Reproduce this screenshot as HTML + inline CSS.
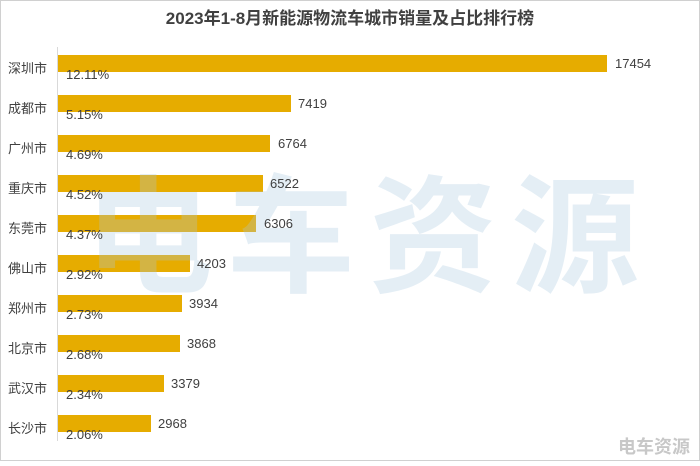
<!DOCTYPE html><html><head><meta charset="utf-8"><style>
body{margin:0;background:#fff}
svg text{font-family:"Liberation Sans","Noto Sans CJK SC",sans-serif}
</style></head><body>
<svg width="700" height="461" xmlns="http://www.w3.org/2000/svg">
<rect x="0.5" y="0.5" width="699" height="460" fill="#fff" stroke="#d0d0d0"/>
<text x="350" y="24" text-anchor="middle" font-size="17" font-weight="bold" fill="#404040">2023年1-8月新能源物流车城市销量及占比排行榜</text>
<line x1="57.5" y1="47" x2="57.5" y2="441" stroke="#d9d9d9"/>
<g font-size="13" fill="#404040">
<g id="bars">
<rect x="58" y="55" width="549" height="17" fill="#E6AC00"/>
<rect x="58" y="95" width="233" height="17" fill="#E6AC00"/>
<rect x="58" y="135" width="212" height="17" fill="#E6AC00"/>
<rect x="58" y="175" width="205" height="17" fill="#E6AC00"/>
<rect x="58" y="215" width="198" height="17" fill="#E6AC00"/>
<rect x="58" y="255" width="132" height="17" fill="#E6AC00"/>
<rect x="58" y="295" width="124" height="17" fill="#E6AC00"/>
<rect x="58" y="335" width="122" height="17" fill="#E6AC00"/>
<rect x="58" y="375" width="106" height="17" fill="#E6AC00"/>
<rect x="58" y="415" width="93" height="17" fill="#E6AC00"/>
</g>
<text font-size="128" fill="#a8c8e0" opacity="0.3" x="85" y="282" font-weight="bold" letter-spacing="14">电车资源</text>
<g text-anchor="start">
<text x="8" y="73">深圳市</text><text x="8" y="113">成都市</text><text x="8" y="153">广州市</text><text x="8" y="193">重庆市</text><text x="8" y="233">东莞市</text><text x="8" y="273">佛山市</text><text x="8" y="313">郑州市</text><text x="8" y="353">北京市</text><text x="8" y="393">武汉市</text><text x="8" y="433">长沙市</text>
</g>
<g>
<text x="66" y="79">12.11%</text><text x="66" y="119">5.15%</text><text x="66" y="159">4.69%</text><text x="66" y="199">4.52%</text><text x="66" y="239">4.37%</text><text x="66" y="279">2.92%</text><text x="66" y="319">2.73%</text><text x="66" y="359">2.68%</text><text x="66" y="399">2.34%</text><text x="66" y="439">2.06%</text>
</g>
<g>
<text x="615" y="68">17454</text><text x="298" y="108">7419</text><text x="278" y="148">6764</text><text x="270" y="188">6522</text><text x="264" y="228">6306</text><text x="197" y="268">4203</text><text x="189" y="308">3934</text><text x="187" y="348">3868</text><text x="171" y="388">3379</text><text x="158" y="428">2968</text>
</g>
</g>
<text x="690" y="453" text-anchor="end" font-size="18" font-weight="bold" fill="#c8c8c8">电车资源</text>
</svg>
</body></html>
